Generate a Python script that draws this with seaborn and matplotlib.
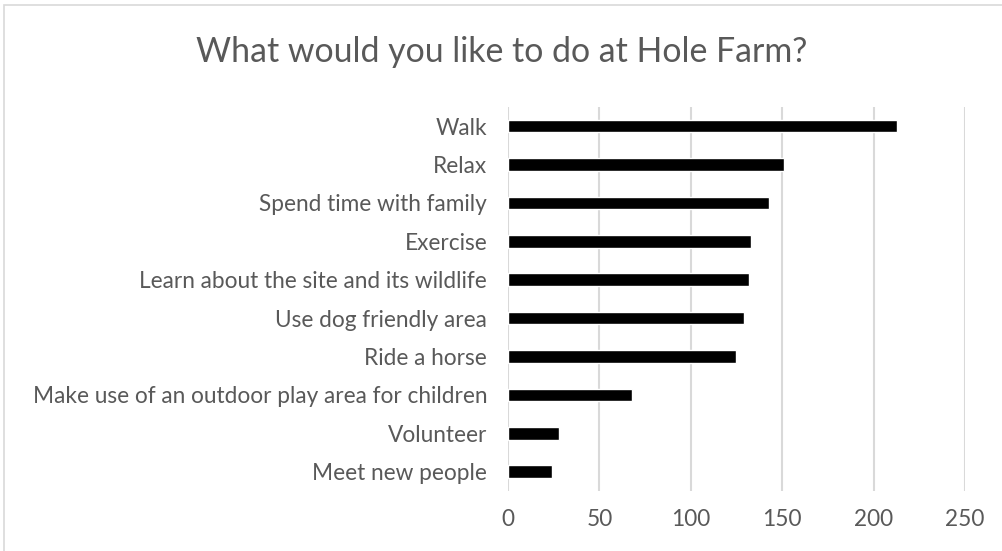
import matplotlib
matplotlib.use("Agg")
import matplotlib.pyplot as plt
import seaborn as sns
import pandas as pd

activities = [
    "Walk",
    "Relax",
    "Spend time with family",
    "Exercise",
    "Learn about the site and its wildlife",
    "Use dog friendly area",
    "Ride a horse",
    "Make use of an outdoor play area for children",
    "Volunteer",
    "Meet new people",
]
responses = [213, 151, 143, 133, 132, 129, 125, 68, 28, 24]
x_ticks = [0, 50, 100, 150, 200, 250]

df = pd.DataFrame({"activity": activities, "count": responses})

sns.set_theme(style="white")
plt.rcParams["font.family"] = ["Lato", "DejaVu Sans"]

grey = "#595959"
fig = plt.figure(figsize=(10.03, 5.51), dpi=100)
ax = fig.add_axes([0.5065, 0.109, 0.4555, 0.697])

sns.barplot(data=df, x="count", y="activity", orient="h", color="black",
            width=0.33, saturation=1, ax=ax, zorder=3)

ax.set_xlim(0, 250)
ax.set_xticks(x_ticks)
ax.grid(axis="x", color="#d9d9d9", linewidth=1.5, zorder=0)
ax.set_axisbelow(True)
for s in ax.spines.values():
    s.set_visible(False)
ax.tick_params(axis="both", length=0, labelsize=16.3, labelcolor=grey)
ax.tick_params(axis="x", pad=13)
ax.tick_params(axis="y", pad=15)
ax.set_xlabel("")
ax.set_ylabel("")

fig.suptitle("What would you like to do at Hole Farm?", y=0.935, fontsize=24.4,
             color=grey)

# light chart-area border
fig.add_artist(plt.Rectangle((4 / 1003, -0.01), 1.1, 1 - 5 / 551 + 0.01,
                             transform=fig.transFigure, fill=False,
                             edgecolor="#d9d9d9", linewidth=1.2))

fig.savefig("out.png", dpi=100)
